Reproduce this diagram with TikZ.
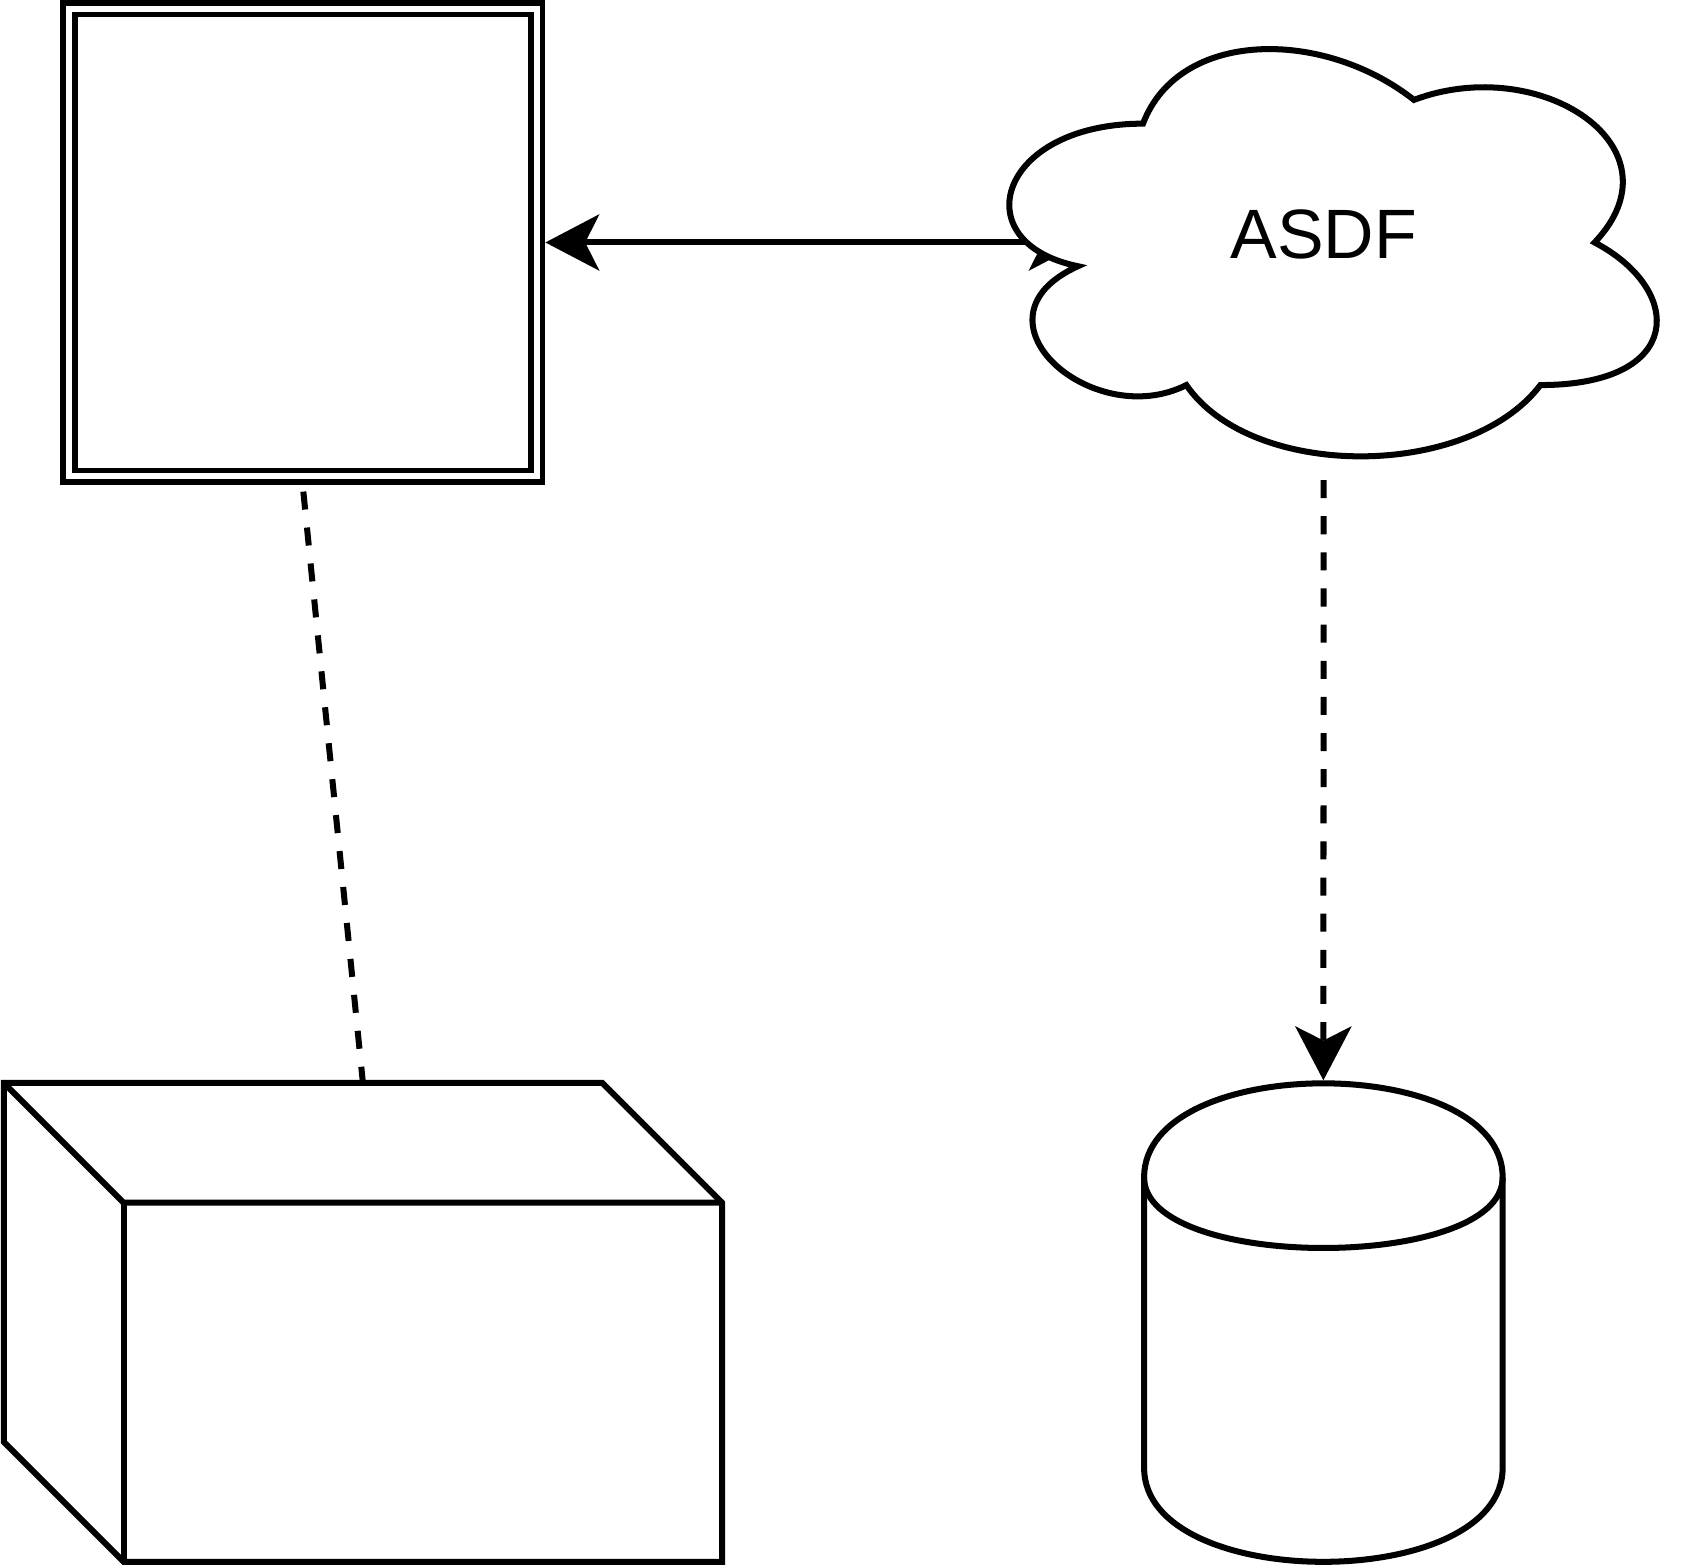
\documentclass[tikz,border=0pt]{standalone}
\usepackage{fontspec}
\setmainfont{Liberation Sans}
\usetikzlibrary{arrows.meta}

\begin{document}
\begin{tikzpicture}[
    x=0.5pt, y=-0.5pt,
    % Grundlinie fuer alle Formen
    kante/.style={line width=2.8pt, line join=miter},
    % gestrichelte Verbindung
    strich/.style={kante, dash pattern=on 8.4pt off 8.4pt},
    % Pfeilspitze wie im Original
    spitze/.tip={Stealth[length=25pt, width=26pt, inset=6.5pt]},
    % Quadrat mit Doppelrand
    doppel/.style={draw, double, line width=2.7pt, double distance=2.8pt, outer sep=4.1pt,
                   minimum width=217.5pt, minimum height=217.5pt, inner sep=0pt},
    % unsichtbarer Rahmen als Anker
    rahmen/.style={inner sep=0pt, outer sep=0pt},
    % Beschriftung der Wolke
    schrift/.style={rahmen, font=\fontsize{32.5pt}{38pt}\selectfont,
                    text height=23pt, text depth=8.5pt}
]
\useasboundingbox (0,0) rectangle (1568,1456);

% Masse Zylinder und Quader
\def\cw{333.5}
\def\ch{445}
\def\cd{87.5}
\def\bw{668}
\def\bh{445.5}
\def\bs{111.5}

% --- OBEN LINKS: DOPPELRAHMEN ---
\node[doppel] (sq) at (281.5,225.5) {};

% Pfeil endet unter der Wolke
\coordinate (einlauf) at (1007,225.5);
\draw[kante, spitze-spitze] (einlauf) -- (sq.east);

% --- OBEN RECHTS: WOLKE ---
\begin{scope}[shift={(895,4.5)}, x=336pt, y=-221pt]
    \draw[kante, fill=white] (0.25,0.25)
        .. controls (0.05,0.25) and (0,0.5) .. (0.16,0.55)
        .. controls (0,0.66) and (0.18,0.9) .. (0.31,0.8)
        .. controls (0.4,1) and (0.7,1) .. (0.8,0.8)
        .. controls (1,0.8) and (1,0.6) .. (0.875,0.5)
        .. controls (1,0.3) and (0.8,0.1) .. (0.625,0.2)
        .. controls (0.5,0.05) and (0.3,0.05) .. (0.25,0.25) -- cycle;
    \node[schrift, minimum width=336pt, minimum height=221pt] (cloud) at (0.5,0.5) {ASDF};
\end{scope}

% --- UNTEN RECHTS: ZYLINDER ---
\begin{scope}[shift={(1064,1007.5)}]
    \draw[kante, fill=white] (0,\cd) .. controls (0,-\cd/3) and (\cw,-\cd/3) .. (\cw,\cd)
        -- (\cw,\ch-\cd) .. controls (\cw,\ch+\cd/3) and (0,\ch+\cd/3) .. (0,\ch-\cd) -- cycle;
    \draw[kante] (0,\cd) .. controls (0,2*\cd) and (\cw,2*\cd) .. (\cw,\cd);
    \node[rahmen, outer sep=1.4pt, minimum width=166.75pt, minimum height=222.5pt] (db) at (\cw/2,\ch/2) {};
\end{scope}

% --- UNTEN LINKS: QUADER ---
\begin{scope}[shift={(3.5,1007)}]
    \draw[kante, fill=white] (0,0) -- (\bw-\bs,0) -- (\bw,\bs) -- (\bw,\bh)
        -- (\bs,\bh) -- (0,\bh-\bs) -- cycle;
    \draw[kante] (0,0) -- (\bs,\bs) -- (\bw,\bs);
    \draw[kante] (\bs,\bs) -- (\bs,\bh);
    \node[rahmen, minimum width=334pt, minimum height=222.75pt] (box) at (\bw/2,\bh/2) {};
\end{scope}

% Verbindungen gestrichelt
\draw[strich, -spitze] (cloud.south) -- (db.north);
\draw[strich, shorten <=3pt] (sq.south) -- (box.north);

\end{tikzpicture}
\end{document}
